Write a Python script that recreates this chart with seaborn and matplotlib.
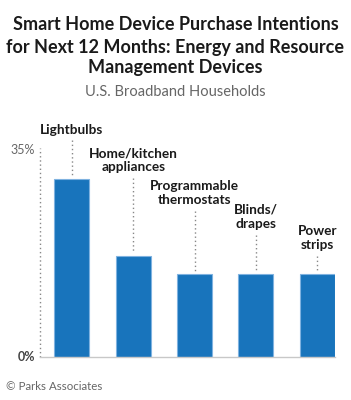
import pandas as pd
import seaborn as sns
import matplotlib.pyplot as plt

# data (percent of U.S. broadband households)
devices = ["Lightbulbs", "Home/kitchen\nappliances", "Programmable\nthermostats",
           "Blinds/\ndrapes", "Power\nstrips"]
intent = [30.1, 17.1, 14.0, 14.0, 14.0]

title_lines = ["Smart Home Device Purchase Intentions",
               "for Next 12 Months: Energy and Resource",
               "Management Devices"]

df = pd.DataFrame({"device": devices, "intent": intent})

sns.set_theme(style="white")
plt.rcParams['font.family'] = ['Lato', 'DejaVu Sans']

fig = plt.figure(figsize=(3.51, 4.0), dpi=100)
ax = fig.add_axes([40 / 351, 1 - 357 / 400, 295 / 351, 207 / 400])

sns.barplot(x="device", y="intent", data=df, color="#1874bc", width=0.57,
            edgecolor="#7fb2e0", linewidth=0.8, ax=ax, saturation=1)

ax.set_xlim(-0.52, 4.29)
ax.set_ylim(0, 35)
ax.set_xlabel("")
ax.set_ylabel("")
ax.set_xticks([])
ax.set_yticks([0, 35])
ax.set_yticklabels([])
sns.despine(ax=ax, left=True, top=True, right=True)
ax.spines["bottom"].set_color("#c8c8c8")
ax.spines["bottom"].set_linewidth(1.0)

# dotted y axis
ax.plot([-0.52, -0.52], [0, 35.3], ls=(0, (1, 2)), color="#888888", lw=1, clip_on=False)
ax.text(-0.6, 35, "35%", ha="right", va="center", fontsize=9, color="#666666")
ax.text(-0.6, 0, "0%", ha="right", va="center", fontsize=9, color="#444444", fontweight="bold")

# category labels with dotted leader lines
label_y = [38.4, 33.3, 27.7, 23.7, 20.1]
for i, (name, v, ly) in enumerate(zip(devices, intent, label_y)):
    nlines = name.count("\n") + 1
    ax.text(i, ly, name, ha="center", va="center", fontsize=9.8, fontweight="bold",
            color="#1a1a1a", linespacing=1.2, clip_on=False)
    top = ly - (1.7 if nlines == 1 else 3.0)
    ax.plot([i, i], [top, v + 0.6], ls=(0, (1, 2)), color="#888888", lw=1, clip_on=False)

for line, ypx in zip(title_lines, [25, 47, 68]):
    fig.text(0.5, 1 - ypx / 400, line, ha="center", va="center",
             fontsize=13, fontweight="bold", color="#1a1a1a")
fig.text(0.5, 1 - 92 / 400, "U.S. Broadband Households", ha="center", va="center",
         fontsize=10.5, color="#666666")
fig.text(6 / 351, 1 - 386 / 400, "© Parks Associates", ha="left", va="center",
         fontsize=8.3, color="#666666")

fig.savefig("out.png", dpi=100)
